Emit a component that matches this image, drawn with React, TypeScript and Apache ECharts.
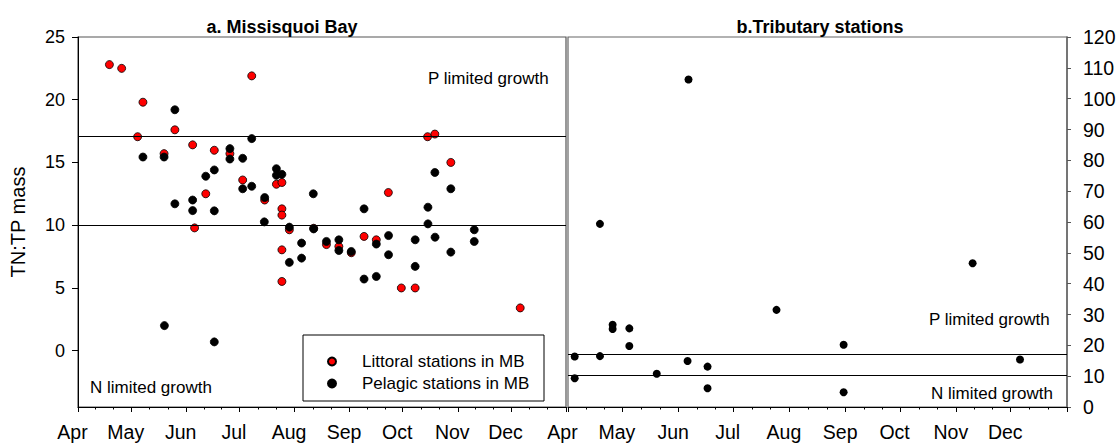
import React, { useEffect, useRef } from "react";
import * as echarts from "echarts";

// x values are days after 1 April
const MONTHS = ["Apr", "May", "Jun", "Jul", "Aug", "Sep", "Oct", "Nov", "Dec"];
const MONTH_START_DAYS = [0, 30, 61, 91, 122, 153, 183, 214, 244, 275];
const LEFT_Y_TICKS = [0, 5, 10, 15, 20, 25];
const LEFT_LIMIT_LINES = [17.1, 10];
const RIGHT_LIMIT_LINES = [17.1, 10.3];

const littoral: [number, number][] = [
  [17.7, 22.8], [24.6, 22.5], [36.6, 19.8], [33.6, 17.05], [48.5, 15.7], [54.6, 17.6],
  [64.6, 16.4], [76.8, 15.97], [72, 12.5], [85.6, 15.7], [92.8, 13.6], [97.9, 21.9],
  [111.8, 13.26], [114.9, 13.4], [114.9, 11.3], [114.9, 10.8], [105.2, 12.0], [65.7, 9.78],
  [119.1, 9.63], [114.9, 8.03], [114.9, 5.51], [132.8, 9.75], [140, 8.45], [147, 8.3],
  [154, 7.8], [161.2, 9.1], [168.1, 8.83], [174.9, 12.6], [182.2, 4.99], [190, 4.99],
  [197, 17.05], [201.1, 17.26], [210.1, 15.0], [249.2, 3.4],
];

const pelagic: [number, number][] = [
  [36.6, 15.43], [48.5, 15.43], [54.6, 19.2], [54.6, 11.7], [64.6, 12.0], [64.6, 11.16],
  [72, 13.9], [76.8, 14.4], [76.8, 11.14], [85.6, 16.1], [85.6, 15.27], [92.8, 15.33],
  [92.8, 12.9], [97.9, 16.9], [97.9, 13.1], [105.2, 12.2], [105, 10.26], [111.8, 14.5],
  [111.8, 13.97], [114.9, 14.05], [119.1, 9.84], [119.1, 7.03], [126, 8.57], [126, 7.37],
  [132.8, 9.7], [132.6, 12.5], [140, 8.7], [147, 8.83], [147, 7.98], [154, 7.9],
  [161.2, 11.3], [161.2, 5.7], [168.1, 8.49], [168.1, 5.91], [175, 9.17], [175, 7.64],
  [190, 8.83], [190, 6.71], [197.2, 11.43], [197.2, 10.1], [201.1, 14.2], [201.2, 9.04],
  [210.1, 12.9], [210.1, 7.85], [223.3, 9.63], [223.3, 8.7], [48.7, 1.99], [76.8, 0.69],
];

const tributary: [number, number][] = [
  [3.7, 16.4], [3.7, 9.3], [17.6, 16.5], [17.6, 59.4], [24.6, 26.7], [24.6, 25.3],
  [33.8, 25.5], [33.8, 19.8], [48.9, 10.8], [65.9, 14.9], [66.4, 106.2], [76.9, 13.1],
  [76.9, 6.1], [114.9, 31.5], [151.9, 20.2], [151.9, 4.8], [223, 46.6], [249.1, 15.4],
];

const FONT = 'Arial, "Liberation Sans", sans-serif';

const minorTicks: number[] = [];
for (let i = 0; i < MONTH_START_DAYS.length - 1; i++) {
  const a = MONTH_START_DAYS[i];
  const b = MONTH_START_DAYS[i + 1];
  minorTicks.push(a + (b - a) / 3, a + (2 * (b - a)) / 3);
}

function monthAxis(gridIndex: number) {
  return {
    type: "value",
    gridIndex,
    min: 0,
    max: 275,
    position: "bottom",
    splitLine: { show: false },
    axisLine: { show: true, onZero: false, lineStyle: { color: "#000", width: 1 } },
    axisTick: {
      show: true,
      inside: false,
      length: 5,
      customValues: MONTH_START_DAYS,
      lineStyle: { color: "#000" },
    },
    axisLabel: {
      show: true,
      customValues: MONTH_START_DAYS.slice(0, MONTHS.length),
      formatter: (v: number) => {
        const i = MONTH_START_DAYS.indexOf(v);
        return i >= 0 && i < MONTHS.length ? MONTHS[i] : "";
      },
      fontSize: 19.5,
      fontFamily: FONT,
      color: "#000",
      margin: 15,
      padding: [0, 11, 0, 0],
    },
  };
}

function minorAxis(gridIndex: number) {
  return {
    type: "value",
    gridIndex,
    min: 0,
    max: 275,
    position: "bottom",
    splitLine: { show: false },
    axisLine: { show: false, onZero: false },
    axisLabel: { show: false },
    axisTick: {
      show: true,
      length: 2.5,
      customValues: minorTicks,
      lineStyle: { color: "#000" },
    },
  };
}

function limitLines(values: number[]) {
  return {
    silent: true,
    symbol: ["none", "none"],
    label: { show: false },
    lineStyle: { color: "#000", width: 1, type: "solid", opacity: 1 },
    data: values.map((v) => ({ yAxis: v })),
  };
}

export default function App() {
  const ref = useRef<HTMLDivElement>(null);
  useEffect(() => {
    document.body.style.margin = "0";
    if (!ref.current) return;
    const chart = echarts.init(ref.current, null, { renderer: "svg" });
    const textEl = (text: string, x: number, y: number, size = 17, bold = false, align = "left") => ({
      type: "text",
      x,
      y,
      silent: true,
      style: {
        text,
        fill: "#000",
        fontSize: size,
        fontFamily: FONT,
        fontWeight: bold ? "bold" : "normal",
        align,
        verticalAlign: "middle",
      },
    });
    chart.setOption({
      animation: false,
      backgroundColor: "#fff",
      grid: [
        { left: 78, top: 37, width: 488, height: 370, show: true, borderColor: "#555", borderWidth: 1.2, backgroundColor: "transparent" },
        { left: 568, top: 37, width: 499, height: 370, show: true, borderColor: "#666", borderWidth: 1.2, backgroundColor: "transparent" },
      ],
      xAxis: [monthAxis(0), minorAxis(0), monthAxis(1), minorAxis(1)],
      yAxis: [
        {
          type: "value",
          gridIndex: 0,
          min: -4.5,
          max: 25,
          position: "left",
          name: "TN:TP mass",
          nameLocation: "middle",
          nameRotate: 90,
          nameGap: 50,
          nameTextStyle: { fontSize: 20, fontFamily: FONT, color: "#000" },
          splitLine: { show: false },
          axisLine: { show: true, onZero: false, lineStyle: { color: "#000", width: 1 } },
          axisTick: { show: true, length: 6, customValues: LEFT_Y_TICKS, lineStyle: { color: "#000" } },
          axisLabel: {
            customValues: LEFT_Y_TICKS,
            fontSize: 18,
            fontFamily: FONT,
            color: "#000",
            margin: 13,
          },
        },
        {
          type: "value",
          gridIndex: 1,
          min: 0,
          max: 120,
          interval: 10,
          position: "right",
          splitLine: { show: false },
          axisLine: { show: true, onZero: false, lineStyle: { color: "#666", width: 1.5 } },
          axisTick: { show: true, length: 4, lineStyle: { color: "#555" } },
          axisLabel: { fontSize: 19.5, fontFamily: FONT, color: "#000", margin: 16 },
        },
      ],
      legend: {
        data: ["Littoral stations in MB", "Pelagic stations in MB"],
        orient: "vertical",
        left: 322,
        top: 348,
        itemWidth: 8,
        itemHeight: 8,
        itemGap: 5,
        icon: "circle",
        textStyle: { fontSize: 17, fontFamily: FONT, color: "#000", padding: [0, 0, 0, 21] },
      },
      graphic: [
        {
          type: "rect",
          silent: true,
          shape: { x: 303, y: 335, width: 241, height: 66 },
          style: { fill: "rgba(0,0,0,0)", stroke: "#000", lineWidth: 1 },
        },
        textEl("a. Missisquoi Bay", 282, 27, 18, true, "center"),
        textEl("b.Tributary stations", 820, 27, 18, true, "center"),
        textEl("P limited growth", 428, 78),
        textEl("N limited growth", 90, 387),
        textEl("P limited growth", 929, 319),
        textEl("N limited growth", 931, 393),
      ],
      series: [
        {
          name: "Littoral stations in MB",
          type: "scatter",
          xAxisIndex: 0,
          yAxisIndex: 0,
          symbol: "circle",
          symbolSize: 8,
          itemStyle: { color: "#ff0000", borderColor: "#000", borderWidth: 0.8, opacity: 1 },
          data: littoral,
          markLine: limitLines(LEFT_LIMIT_LINES),
        },
        {
          name: "Pelagic stations in MB",
          type: "scatter",
          xAxisIndex: 0,
          yAxisIndex: 0,
          symbol: "circle",
          symbolSize: 8,
          itemStyle: { color: "#000", borderColor: "#000", borderWidth: 0.8, opacity: 1 },
          data: pelagic,
        },
        {
          name: "Tributary stations",
          type: "scatter",
          xAxisIndex: 2,
          yAxisIndex: 1,
          symbol: "circle",
          symbolSize: 8,
          itemStyle: { color: "#000", opacity: 1 },
          data: tributary,
          markLine: limitLines(RIGHT_LIMIT_LINES),
        },
      ],
    });
    return () => chart.dispose();
  }, []);
  return <div ref={ref} style={{ width: 1119, height: 445 }} />;
}
